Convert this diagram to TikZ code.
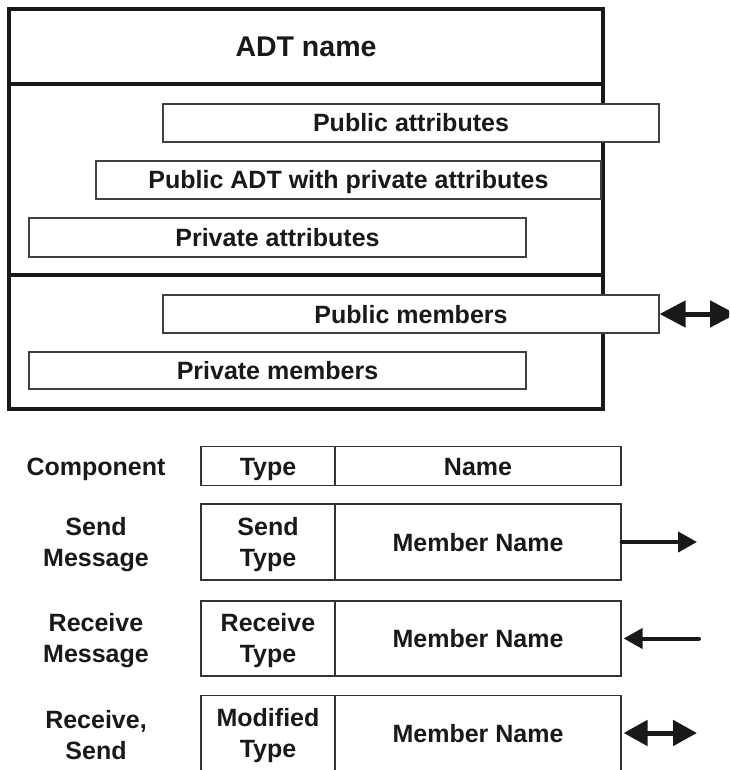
\documentclass[tikz,border=0pt]{standalone}
\usepackage{fontspec}
\setmainfont{Liberation Sans}
\usetikzlibrary{arrows.meta}
\newcommand\lblfont{\fontsize{25}{31}\selectfont\bfseries}
\newcommand\titlefont{\fontsize{28.5}{34}\selectfont\bfseries}
\begin{document}
\begin{tikzpicture}[x=1pt,y=-1pt,
  frame/.style={draw=black!90,line width=3.6pt},
  oneline/.style={text height=18pt,text depth=0pt},
  twolines/.style={yshift=-2.5pt},
  slot/.style={draw=black!75,line width=1.2pt,fill=white,inner sep=0pt,
    minimum height=38pt,font=\lblfont,text=black!90,oneline},
  cell/.style={draw=black!80,line width=1.2pt,inner sep=0pt,align=center,
    font=\lblfont,text=black!90},
  lbl/.style={align=center,font=\lblfont,text=black!90,inner sep=0pt},
  oneway/.style={draw=black!90,line width=4pt,line cap=round,
    -{Triangle[length=19pt,width=20pt]}},
  twoway/.style={draw=black!90,line width=5pt,
    {Triangle[length=24pt,width=25pt]}-{Triangle[length=24pt,width=25pt]}},
  bigtwoway/.style={draw=black!90,line width=5pt,
    {Triangle[length=26pt,width=26pt]}-{Triangle[length=26pt,width=26pt]}}
]
\useasboundingbox (0,0) rectangle (729,770);
\clip (0,0) rectangle (729,770);

% ADT frame with its three compartments
\draw[frame] (9,9) rectangle (603,409);
\draw[frame] (9,84) -- (603,84);
\draw[frame] (9,275) -- (603,275);
\node[font=\titlefont,text=black!90,text height=20.4pt,text depth=0pt] (adtname) at (306,46.5) {ADT name};

% attribute compartment
\node[slot,minimum width=496pt] (pubattr) at (411,123) {Public attributes};
\node[slot,minimum width=505pt] (pubadt) at (348.5,180) {Public ADT with private attributes};
\node[slot,minimum width=497pt,minimum height=39pt] (privattr) at (277.5,237.5) {Private attributes};

% member compartment
\node[slot,minimum width=496pt] (pubmem) at (411,314) {Public members};
\node[slot,minimum width=497pt,minimum height=37pt] (privmem) at (277.5,370.5) {Private members};
\coordinate (pubmemend) at (736,314);
\draw[bigtwoway] (pubmem.east) -- (pubmemend);

% legend table: header row
\node[lbl,oneline] (hdcomp) at (96,466) {Component};
\node[cell,oneline,minimum width=134pt,minimum height=39pt] (hdtype) at (268,466) {Type};
\node[cell,oneline,minimum width=286pt,minimum height=39pt] (hdname) at (478,466) {Name};

% send row
\node[lbl,twolines] (sendlbl) at (96,542) {Send\\Message};
\node[cell,minimum width=134pt,minimum height=76pt] (sendtype) at (268,542) {};
\node[lbl,twolines] (sendtypetxt) at (sendtype) {Send\\Type};
\node[cell,oneline,minimum width=286pt,minimum height=76pt] (sendname) at (478,542) {Member Name};
\coordinate (sendend) at (697,542);
\draw[oneway] (sendname.east) -- (sendend);

% receive row
\node[lbl,twolines] (recvlbl) at (96,638.5) {Receive\\Message};
\node[cell,minimum width=134pt,minimum height=75pt] (recvtype) at (268,638.5) {};
\node[lbl,twolines] (recvtypetxt) at (recvtype) {Receive\\Type};
\node[cell,oneline,minimum width=286pt,minimum height=75pt] (recvname) at (478,638.5) {Member Name};
\coordinate (recvstart) at (699,638.5);
\draw[oneway,shorten >=2pt] (recvstart) -- (recvname.east);

% receive-and-send row (runs off the lower edge)
\node[lbl,twolines] (modlbl) at (96,733) {Receive,\\Send};
\node[cell,minimum width=134pt,minimum height=75pt] (modtype) at (268,733) {};
\node[lbl,twolines] (modtypetxt) at (modtype) {Modified\\Type};
\node[cell,oneline,minimum width=286pt,minimum height=75pt] (modname) at (478,733) {Member Name};
\coordinate (modend) at (697,733);
\draw[twoway,shorten <=2pt] (modname.east) -- (modend);
\end{tikzpicture}
\end{document}
